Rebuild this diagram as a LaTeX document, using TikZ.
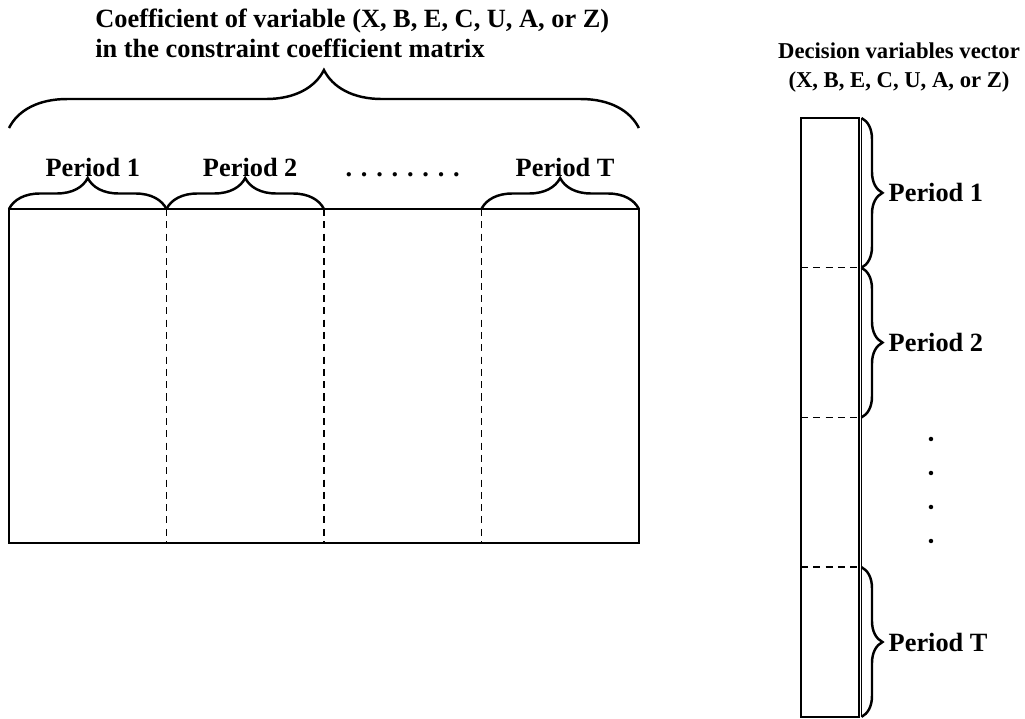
\documentclass[tikz,border=0pt]{standalone}
\usepackage{fontspec}
\setmainfont{Liberation Serif}
\usetikzlibrary{calc, decorations.pathreplacing}

\begin{document}
\begin{tikzpicture}[
    x=0.02cm, y=-0.02cm,
    box/.style={draw, line width=1pt, inner sep=0pt, outer sep=0pt, anchor=north west},
    sep/.style={line width=0.8pt, dash pattern=on 4pt off 3pt},
    brc/.style={decorate, decoration={brace, amplitude=#1}, line width=1.4pt},
    bigtxt/.style={font=\bfseries\fontsize{15}{17}\selectfont, inner sep=0pt},
    smalltxt/.style={font=\bfseries\fontsize{12.9}{17}\selectfont, inner sep=0pt},
]
\useasboundingbox (0,0) rectangle (1025,719);

\node[box, minimum width=12.6cm, minimum height=6.68cm] (mat) at (9,209) {};
\node[box, minimum width=1.16cm, minimum height=11.98cm] (vec) at (801,118) {};
\draw[line width=0.4pt] ([xshift=0.05cm]vec.north east) -- ([xshift=0.05cm]vec.south east);

\node[bigtxt, align=left, anchor=north west] (mattitle) at (95,9)
    {Coefficient of variable (X, B, E, C, U, A, or Z)\\in the constraint coefficient matrix};
\node[smalltxt, align=center, anchor=north] (vectitle) at (899,42)
    {Decision variables vector\\(X, B, E, C, U, A, or Z)};

\foreach \f in {0.25,0.5,0.75} {
  \draw[sep] ($(mat.north west)!\f!(mat.north east)$) -- ($(mat.south west)!\f!(mat.south east)$);
  \draw[sep] ($(vec.north west)!\f!(vec.south west)$) -- ($(vec.north east)!\f!(vec.south east)$);
}

\draw[brc=1.16cm] ([yshift=1.62cm]mat.north west) -- ([yshift=1.62cm]mat.north east);

\foreach \a/\b/\t [count=\i] in {0/0.25/Period 1, 0.25/0.5/Period 2, 0.75/1/Period T}
  \draw[brc=0.62cm] ($(mat.north west)!\a!(mat.north east)$) -- ($(mat.north west)!\b!(mat.north east)$)
    node[bigtxt, midway, anchor=base, yshift=0.66cm, xshift=0.1cm] (pmat\i) {\t};

\node[bigtxt, anchor=base] (hdots) at ([yshift=0.66cm]$(mat.north west)!0.625!(mat.north east)$)
    {. . . . . . . .};

\foreach \a/\b/\t [count=\i] in {0/0.25/Period 1, 0.25/0.5/Period 2, 0.75/1/Period T}
  \draw[brc=0.42cm] ([xshift=0.05cm]$(vec.north east)!\a!(vec.south east)$)
      -- ([xshift=0.05cm]$(vec.north east)!\b!(vec.south east)$)
    node[bigtxt, midway, anchor=west, xshift=0.52cm] (pvec\i) {\t};

\foreach \k in {0,...,3}
  \fill ($(vec.north east)+(72,321+34*\k)$) circle (0.045cm);

\end{tikzpicture}
\end{document}
